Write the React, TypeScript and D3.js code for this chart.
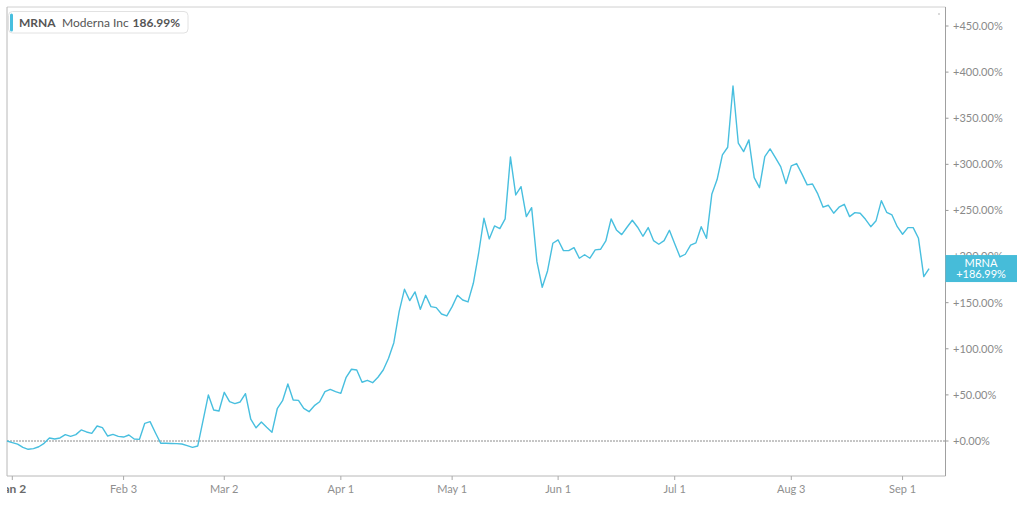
import React from "react";
import * as d3 from "d3";

// % change vs. Dec 31 2019 close, one value per trading day (index -1 = baseline)
const startIndex = -1;
const values: number[] = [
  0, -1.7, -3.4, -7.0, -9.0, -8.3, -6.2, -2.5, 3.3, 2.2, 3.3, 6.9, 5.0, 6.9, 12.0, 9.8, 8.3, 16.3, 14.5, 5.4,
  7.2, 5.0, 4.3, 6.5, 2.2, 1.8, 19.2, 21.0, 9.0, -2.5, -2.5, -2.7, -2.9, -3.3, -5.0, -6.9, -5.4, 22.4, 49.9, 33.6,
  32.5, 52.8, 42.6, 40.5, 42.3, 51.3, 23.6, 14.3, 20.6, 14.8, 9.4, 35.0, 43.7, 61.8, 44.5, 44.1, 35.4, 31.8, 38.3, 42.6,
  53.5, 56.0, 53.5, 51.7, 69.1, 77.8, 77.0, 63.7, 65.8, 63.2, 69.1, 77.0, 89.7, 106.6, 140.2, 164.5, 152.2, 161.6, 142.8, 158.0,
  145.7, 144.6, 137.7, 135.6, 145.7, 158.0, 152.9, 150.8, 171.0, 203.6, 241.5, 219.1, 233.2, 230.3, 240.8, 308.0, 266.8, 275.8, 243.3, 253.0,
  194.5, 166.7, 184.4, 214.4, 218.0, 206.4, 206.4, 209.7, 198.2, 202.0, 198.2, 207.2, 207.9, 216.9, 240.8, 228.9, 223.8, 231.8, 239.4, 231.8,
  222.0, 231.4, 217.3, 213.3, 217.3, 228.5, 214.0, 199.6, 202.5, 212.3, 214.8, 232.4, 219.8, 267.5, 283.5, 310.2, 318.5, 385.0, 322.9, 313.8,
  326.5, 285.6, 274.7, 308.4, 316.7, 307.3, 297.5, 279.1, 298.3, 300.8, 289.6, 277.7, 278.7, 267.9, 253.5, 255.6, 247.0, 253.5, 256.7, 243.3,
  247.6, 247.0, 240.4, 232.4, 238.9, 260.6, 248.0, 245.1, 232.4, 224.2, 231.4, 231.4, 219.8, 178.2, 186.99,
];

const xTickIndex = [0, 21, 40, 62, 83, 103, 125, 147, 168];
const xTickLabels = ["Jan 2", "Feb 3", "Mar 2", "Apr 1", "May 1", "Jun 1", "Jul 1", "Aug 3", "Sep 1"];
const yTicks = [0, 50, 100, 150, 200, 250, 300, 350, 400, 450];

const ticker = "MRNA";
const company = "Moderna Inc";
const lastValue = 186.99;

const W = 1024;
const H = 529;
const left = 7;
const right = 945.5;
const top = 7;
const bottom = 476;
const lineColor = "#48bfdf";
const font = "Lato, 'Noto Sans', sans-serif";

export default function App() {
  const x = d3.scaleLinear().domain([-1, 176.1]).range([left, right]);
  const y = d3.scaleLinear().domain([0, 450]).range([441, 26]);

  const pts = values.map((v, i) => [startIndex + i, v] as [number, number]);
  const line = d3
    .line<[number, number]>()
    .x((d) => x(d[0]))
    .y((d) => y(d[1]));

  const fmtY = (v: number) => (v >= 0 ? "+" : "") + v.toFixed(2) + "%";
  const lastY = y(lastValue);

  return (
    <svg
      width={W}
      height={H}
      style={{ position: "absolute", left: 0, top: 0, display: "block", fontFamily: font }}
    >
      <defs>
        <clipPath id="xlab">
          <rect x={left} y={bottom} width={W - left} height={H - bottom} />
        </clipPath>
      </defs>
      <rect x={0} y={0} width={W} height={H} fill="#fff" />
      {/* frame */}
      <line x1={left} x2={right} y1={top} y2={top} stroke="#d0d0d0" strokeWidth={1} />
      <line x1={left} x2={left} y1={top} y2={bottom} stroke="#b8b8b8" strokeWidth={1} />
      <line x1={left} x2={right} y1={bottom} y2={bottom} stroke="#b8b8b8" strokeWidth={1} />
      <line x1={right} x2={right} y1={top} y2={bottom} stroke="#a0a0a0" strokeWidth={1} />
      <circle cx={939} cy={14} r={0.8} fill="#aaa" />

      {/* zero line */}
      <line
        x1={left}
        x2={right}
        y1={y(0)}
        y2={y(0)}
        stroke="#8c8c8c"
        strokeWidth={1}
        strokeDasharray="2,1"
      />

      {/* y axis ticks and labels */}
      {yTicks.map((t) => (
        <g key={t}>
          <line x1={right} x2={right + 3} y1={y(t)} y2={y(t)} stroke="#999" />
          <text x={953} y={y(t)} dy="0.35em" fontSize={11} fill="#8a8a8a">
            {fmtY(t)}
          </text>
        </g>
      ))}

      {/* x axis ticks and labels */}
      <g clipPath="url(#xlab)">
        {xTickIndex.map((t, i) => (
          <g key={t}>
            <line x1={x(t)} x2={x(t)} y1={bottom} y2={bottom + 4} stroke="#aaa" />
            <text
              x={x(t)}
              y={489}
              dy="0.35em"
              textAnchor="middle"
              fontSize={i === 0 ? 12 : 11}
              fontWeight={i === 0 ? 700 : 400}
              fill={i === 0 ? "#6a6a6a" : "#8f8f8f"}
            >
              {xTickLabels[i]}
            </text>
          </g>
        ))}
      </g>

      {/* series line */}
      <path d={line(pts) || ""} fill="none" stroke={lineColor} strokeWidth={1.4} strokeLinejoin="round" />

      {/* end label */}
      <rect x={right} y={lastY - 13.5} width={1017 - right} height={27} fill="#46bcd9" />
      <text x={981} y={lastY - 5} dy="0.35em" textAnchor="middle" fontSize={11} fill="#fff">
        {ticker}
      </text>
      <text x={981} y={lastY + 6} dy="0.35em" textAnchor="middle" fontSize={11} fill="#fff">
        {fmtY(lastValue)}
      </text>

      {/* legend */}
      <rect x={8.5} y={11.5} width={179.5} height={21.5} rx={4} fill="#fff" stroke="#e2e2e2" />
      <rect x={10} y={13.5} width={3} height={18} rx={1.5} fill={lineColor} />
      <text x={19} y={23} dy="0.35em" fontSize={12} fontWeight={700} fill="#555">
        {ticker}
      </text>
      <text x={62} y={23} dy="0.35em" fontSize={12} fontWeight={400} fill="#555">
        {company}
      </text>
      <text x={132.5} y={23} dy="0.35em" fontSize={12} fontWeight={700} fill="#555">
        {lastValue.toFixed(2) + "%"}
      </text>
    </svg>
  );
}
